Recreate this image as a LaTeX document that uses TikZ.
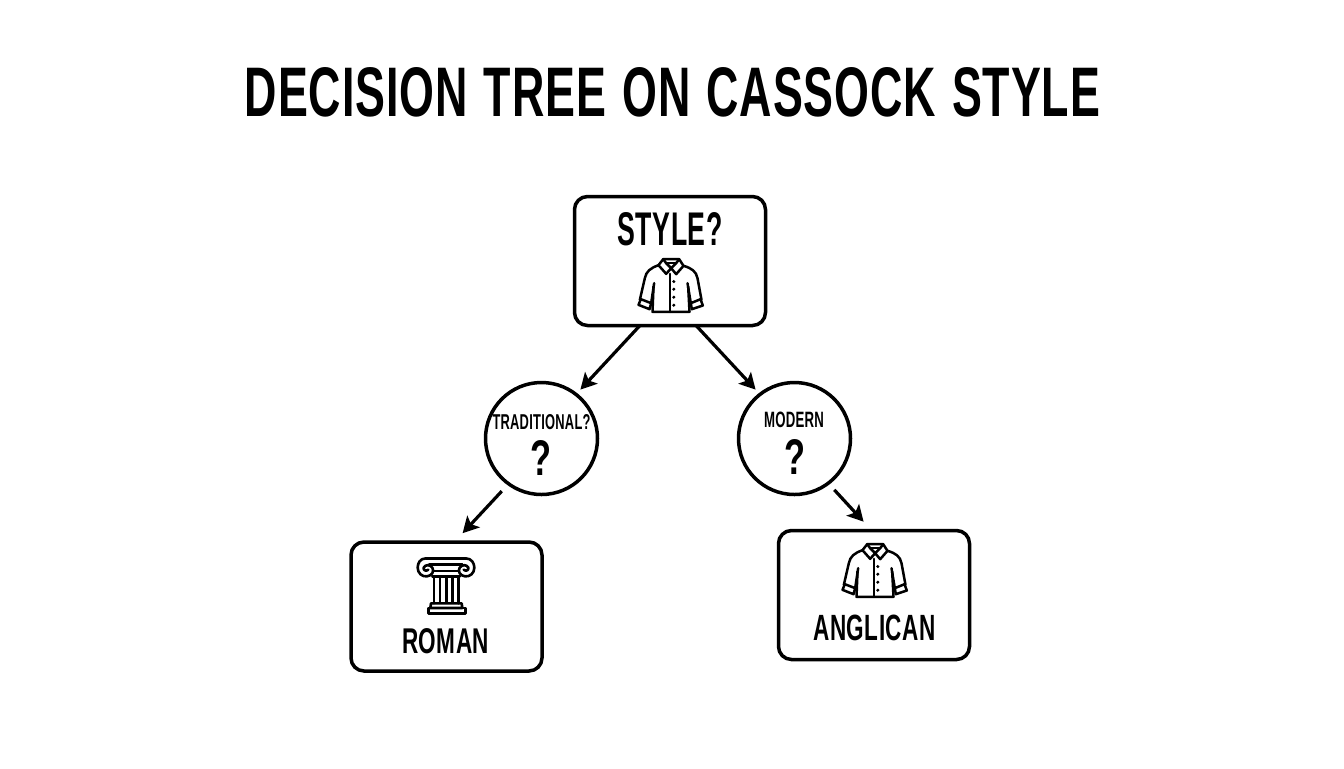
\documentclass[tikz,border=0pt]{standalone}
\usepackage{fontspec}
\usepackage{graphicx}
\setmainfont{Liberation Sans}
\usetikzlibrary{arrows.meta}
\newcommand{\fitlabel}[3]{\resizebox{\dimexpr #1pt/2\relax}{\dimexpr #2pt/2\relax}{\bfseries\addfontfeature{LetterSpace=2}#3}}
\newcommand{\wsp}{\hspace{0.36em}}
\tikzset{
  box/.style={draw=black,rounded corners=6.5pt,line width=1.75pt,fill=white,outer sep=0pt,inner sep=0pt,minimum width=95.5pt,minimum height=64.5pt},
  quest/.style={draw=black,circle,line width=1.75pt,fill=white,outer sep=0pt,inner sep=0pt,minimum size=56pt},
  lbl/.style={inner sep=0pt,outer sep=0pt,text=black},
  arr/.style={draw=black,line width=1.6pt,-{Stealth[length=8pt,width=8.5pt,inset=1.8pt]}},
  pics/shirtico/.style={code={
    \begin{scope}[x=0.16667pt,y=-0.16667pt,shift={(-301,-287)},line width=1.25pt,line join=round,line cap=round]
      % collar
      \draw (265,226) -- (279,208) -- (327,208) -- (340,228) -- (318,253) -- (303,235) -- (288,252) -- cycle;
      \draw (279,208) -- (288,220) -- (303,235);
      \draw (327,208) -- (318,220) -- (303,235);
      \draw (288,220) -- (318,220);
      % shoulders and sleeves
      \draw (265,226) .. controls (240,235) and (228,245) .. (224,265) -- (209,330);
      \draw (340,228) .. controls (365,235) and (378,245) .. (382,265) -- (394,330);
      \draw (212,328) -- (243,340) -- (238,358) -- (205,345) -- cycle;
      \draw (391,328) -- (362,340) -- (365,358) -- (398,347) -- cycle;
      \draw (243,340) -- (252,280);
      \draw (362,340) -- (352,280);
      % body
      \draw (250,290) -- (247,366) -- (358,366) -- (354,290);
      \draw (300,252) -- (300,366);
      \foreach \yy in {275,298,322,346} {\fill (311,\yy) circle (5);}
    \end{scope}
  }},
  pics/columnico/.style={code={
    \begin{scope}[x=0.16667pt,y=-0.16667pt,line width=1.3pt,line join=round,line cap=round]
      % capital
      \draw (243,70) -- (362,70);
      \draw (243,70) .. controls (225,70) and (218,85) .. (218,98) .. controls (218,115) and (232,126) .. (246,124) .. controls (262,122) and (268,108) .. (262,98) .. controls (256,88) and (240,88) .. (236,98) .. controls (234,106) and (244,110) .. (250,104);
      \draw (362,70) .. controls (380,70) and (388,85) .. (388,98) .. controls (388,115) and (374,126) .. (360,124) .. controls (344,122) and (338,108) .. (344,98) .. controls (350,88) and (366,88) .. (370,98) .. controls (372,106) and (362,110) .. (356,104);
      \draw (252,88) -- (352,88);
      \draw (268,108) -- (338,108);
      \draw (262,124) -- (344,124);
      % shaft
      \draw (267,124) -- (267,205);
      \draw (341,124) -- (341,205);
      \draw (285,128) -- (285,200);
      \draw (304,128) -- (304,200);
      \draw (323,128) -- (323,200);
      % base
      \draw (258,205) -- (350,205) -- (352,219) -- (256,219) -- cycle;
      \draw (250,219) rectangle (361,235);
    \end{scope}
  }}
}
\begin{document}
\begin{tikzpicture}[x=0.5pt,y=-0.5pt]
  \useasboundingbox (0,0) rectangle (1344,768);
  \node[lbl] (title) at (672.5,92) {\fitlabel{855}{49}{DECISION\wsp TREE\wsp ON\wsp CASSOCK\wsp STYLE}};

  \node[box] (style) at (670,261) {};
  \node[quest] (trad) at (541.5,438.5) {};
  \node[quest] (mod) at (794.5,438.5) {};
  \node[box] (roman) at (446.5,606.5) {};
  \node[box] (angl) at (874,595) {};

  \node[lbl] (styleT) at (670,229.5) {\fitlabel{105}{33}{STYLE?}};
  \node[lbl] (tradT) at (541.5,422.5) {\fitlabel{98}{15}{TRADITIONAL?}};
  \node[lbl] (tradQ) at (540.5,457.5) {\fitlabel{21}{35}{?}};
  \node[lbl] (modT) at (794,419.5) {\fitlabel{60}{15.5}{MODERN}};
  \node[lbl] (modQ) at (794.5,457) {\fitlabel{21}{35}{?}};
  \node[lbl] (romanT) at (445.7,641) {\fitlabel{87}{25}{ROMAN}};
  \node[lbl] (anglT) at (874.5,628) {\fitlabel{122}{25.5}{ANGLICAN}};

  \pic at (670.5,285.5) {shirtico};
  \pic at (874.5,570.5) {shirtico};
  \pic at (345,535) {columnico};

  \draw[arr,shorten >=3.25pt] (style.-115.5) -- (trad.52.6);
  \draw[arr,shorten >=3.25pt] (style.-68) -- (mod.128.2);
  \draw[arr,shorten <=5pt,shorten >=6pt] (trad.-126.4) -- (roman.83.5);
  \draw[arr,shorten <=4.5pt,shorten >=6pt] (mod.-53.7) -- (angl.92);
\end{tikzpicture}
\end{document}
